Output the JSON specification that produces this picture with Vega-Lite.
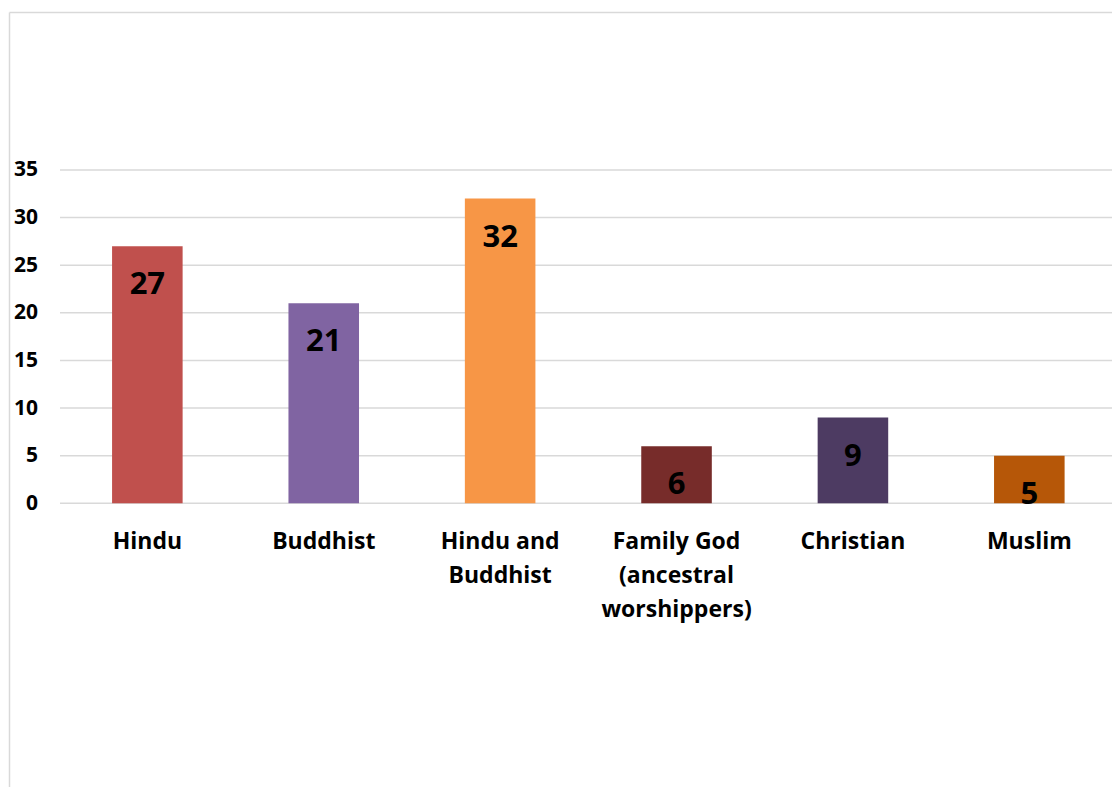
{
  "$schema": "https://vega.github.io/schema/vega-lite/v6.json",
  "width": 1103,
  "height": 775,
  "autosize": {"type": "none"},
  "padding": {"left": 9, "top": 12, "right": 0, "bottom": 0},
  "background": "white",
  "config": {
    "view": {"stroke": null},
    "font": "Open Sans",
    "axisY": {
      "grid": false,
      "ticks": false,
      "tickSize": 0,
      "domain": true,
      "domainColor": "#d9d9d9",
      "domainWidth": 1.5,
      "labelFont": "Open Sans",
      "labelFontWeight": "bold",
      "labelFontSize": 21,
      "labelColor": "#000000",
      "labelAlign": "right",
      "labelBaseline": "middle",
      "labelPadding": -28.5,
      "title": null
    }
  },
  "datasets": {
    "religions": [
      {"religion": "Hindu", "count": 27},
      {"religion": "Buddhist", "count": 21},
      {"religion": "Hindu and Buddhist", "count": 32},
      {"religion": "Family God (ancestral worshippers)", "count": 6},
      {"religion": "Christian", "count": 9},
      {"religion": "Muslim", "count": 5}
    ],
    "gridlines": [
      {"v": 0}, {"v": 5}, {"v": 10}, {"v": 15}, {"v": 20}, {"v": 25}, {"v": 30}, {"v": 35}
    ]
  },
  "layer": [
    {
      "data": {"name": "gridlines"},
      "mark": {"type": "rule", "color": "#d9d9d9", "strokeWidth": 1.5},
      "encoding": {
        "y": {
          "field": "v",
          "type": "quantitative",
          "scale": {"domain": [-29.79, 51.59], "nice": false, "zero": false},
          "axis": {"values": [0, 5, 10, 15, 20, 25, 30, 35], "title": null}
        },
        "x": {
          "datum": 0.04624,
          "type": "quantitative",
          "scale": {"domain": [0, 1], "nice": false, "zero": false},
          "axis": {
            "orient": "top",
            "domain": true,
            "domainColor": "#d9d9d9",
            "domainWidth": 1.5,
            "labels": false,
            "ticks": false,
            "grid": false,
            "title": null
          }
        },
        "x2": {"datum": 1}
      }
    },
    {
      "data": {"name": "religions"},
      "encoding": {
        "x": {
          "field": "religion",
          "type": "nominal",
          "sort": null,
          "scale": {"type": "band", "paddingInner": 0.6, "paddingOuter": 0.4265, "align": 0.685, "round": false},
          "axis": {
            "orient": "bottom",
            "offset": -257,
            "domain": false,
            "ticks": false,
            "grid": false,
            "labelPadding": 0,
            "labelAngle": 0,
            "labelLimit": 0,
            "labelFont": "Open Sans",
            "labelFontWeight": "bold",
            "labelFontSize": 23,
            "labelColor": "#000000",
            "labelLineHeight": 34,
            "labelBaseline": "top",
            "labelExpr": "datum.value == 'Hindu and Buddhist' ? ['Hindu and', 'Buddhist'] : datum.value == 'Family God (ancestral worshippers)' ? ['Family God', '(ancestral', 'worshippers)'] : datum.label",
            "title": null
          }
        },
        "y": {
          "field": "count",
          "type": "quantitative",
          "scale": {"domain": [-29.79, 51.59], "nice": false, "zero": false},
          "axis": {"values": [0, 5, 10, 15, 20, 25, 30, 35], "title": null}
        }
      },
      "layer": [
        {
          "mark": {"type": "bar"},
          "encoding": {
            "y2": {"datum": 0},
            "color": {
              "field": "religion",
              "type": "nominal",
              "sort": null,
              "scale": {
                "domain": ["Hindu", "Buddhist", "Hindu and Buddhist", "Family God (ancestral worshippers)", "Christian", "Muslim"],
                "range": ["#C0504D", "#8064A2", "#F79646", "#772C2A", "#4D3B62", "#B65708"]
              },
              "legend": null
            }
          }
        },
        {
          "mark": {
            "type": "text",
            "font": "Open Sans",
            "fontWeight": "bold",
            "fontSize": 31,
            "color": "#000000",
            "baseline": "alphabetic",
            "align": "center",
            "dy": 48
          },
          "encoding": {
            "text": {"field": "count", "type": "quantitative"}
          }
        }
      ]
    }
  ],
  "resolve": {"scale": {"x": "independent"}}
}
